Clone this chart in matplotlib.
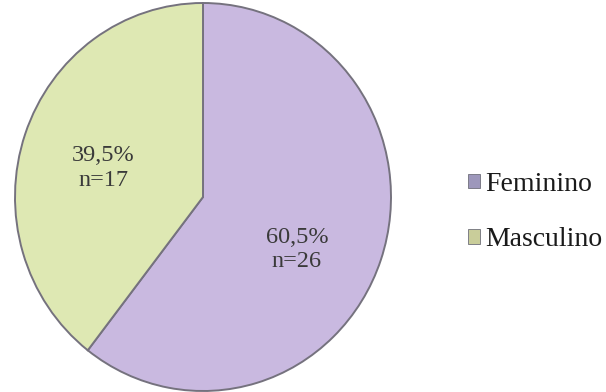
import matplotlib
matplotlib.use("Agg")
import matplotlib.pyplot as plt
from matplotlib.patches import Patch

# data
categories = ["Feminino", "Masculino"]
percent = [60.5, 39.5]
counts = [26, 17]
colors = ["#c9b9e0", "#dee8b3"]
legend_colors = ["#9d97bb", "#c9cd9a"]

plt.rcParams["font.family"] = ["Liberation Serif", "DejaVu Serif"]

fig = plt.figure(figsize=(6.06, 3.92), dpi=100)
ax = fig.add_axes([15 / 606, 1 / 392, 376 / 606, 388 / 392])

wedges, _ = ax.pie(percent, colors=colors, startangle=90, counterclock=False,
                   wedgeprops=dict(edgecolor="#75727e", linewidth=1.4))
ax.set_xlim(-1.0, 1.0)
ax.set_ylim(-1.0, 1.0)
ax.set_aspect("auto")

# label positions (axes data units)
label_pos = [(0.50, -0.27), (-0.53, 0.15)]
for (x, y), p, n in zip(label_pos, percent, counts):
    ax.text(x, y, f"{p:.1f}%".replace(".", ",") + f"\nn={n}",
            ha="center", va="center", fontsize=17.5, color="#3a3a3a",
            linespacing=1.2)

handles = [Patch(facecolor=c, edgecolor="#6f6f7a", linewidth=0.6) for c in legend_colors]
fig.legend(handles, categories, loc="center left", bbox_to_anchor=(468 / 606, 1 - 212 / 392),
           frameon=False, fontsize=20, handlelength=0.42, handleheight=0.42,
           handletextpad=0.2, labelspacing=1.1, labelcolor="#1a1a1a",
           borderaxespad=0, borderpad=0)

fig.savefig("out.png", dpi=100)
